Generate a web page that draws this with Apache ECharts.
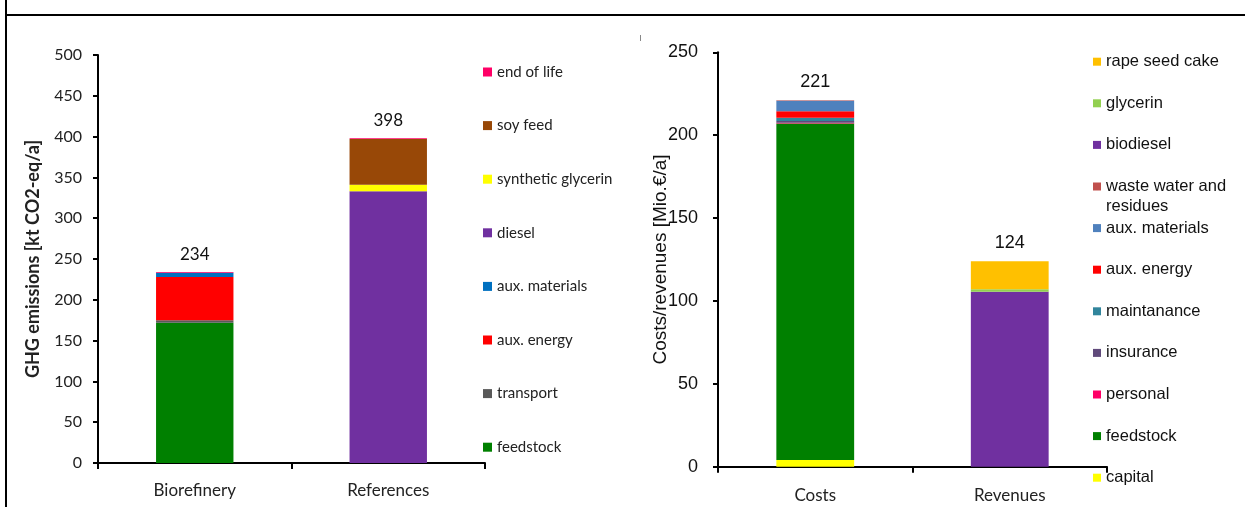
<!DOCTYPE html>
<html><head><meta charset="utf-8">
<script src="https://cdn.jsdelivr.net/npm/echarts@6/dist/echarts.min.js"></script>
<style>html,body{margin:0;padding:0;background:#fff}#c{width:1245px;height:507px}</style>
</head><body><div id="c"></div>
<script>
// ---------- Left chart: GHG emissions ----------
const ghgCategories = ['Biorefinery', 'References'];
const ghgTickLabels = [0, 50, 100, 150, 200, 250, 300, 350, 400, 450, 500];
const ghgFeedstock = [172, 0];
const ghgTransport = [3, 0];
const ghgAuxEnergy = [53, 0];
const ghgAuxMaterials = [5, 0];
const ghgDiesel = [0, 333];
const ghgSyntheticGlycerin = [0, 8];
const ghgSoyFeed = [0, 56];
const ghgEndOfLife = [1, 1];

// ---------- Right chart: costs / revenues ----------
const costCategories = ['Costs', 'Revenues'];
const costTickLabels = [0, 50, 100, 150, 200, 250];
const costCapital = [4, 0];
const costFeedstock = [203, 0];
const costPersonal = [0.5, 0];
const costInsurance = [1, 0];
const costMaintanance = [2, 0];
const costAuxEnergy = [4, 0];
const costAuxMaterials = [6.2, 0];
const costWasteWater = [0.3, 0];
const costBiodiesel = [0, 105.5];
const costGlycerin = [0, 1.5];
const costRapeSeedCake = [0, 17];

const ghgSeries = [
  {name: 'feedstock', data: ghgFeedstock, color: '#008000'},
  {name: 'transport', data: ghgTransport, color: '#595959'},
  {name: 'aux. energy', data: ghgAuxEnergy, color: '#ff0000'},
  {name: 'aux. materials', data: ghgAuxMaterials, color: '#0070c0'},
  {name: 'diesel', data: ghgDiesel, color: '#7030a0'},
  {name: 'synthetic glycerin', data: ghgSyntheticGlycerin, color: '#ffff00'},
  {name: 'soy feed', data: ghgSoyFeed, color: '#984807'},
  {name: 'end of life', data: ghgEndOfLife, color: '#ff0066'}
];
const costSeries = [
  {name: 'capital', data: costCapital, color: '#ffff00'},
  {name: 'feedstock', data: costFeedstock, color: '#008000'},
  {name: 'personal', data: costPersonal, color: '#ff0066'},
  {name: 'insurance', data: costInsurance, color: '#604a7b'},
  {name: 'maintanance', data: costMaintanance, color: '#31859c'},
  {name: 'aux. energy', data: costAuxEnergy, color: '#ff0000'},
  {name: 'aux. materials', data: costAuxMaterials, color: '#4f81bd'},
  {name: 'waste water and residues', data: costWasteWater, color: '#c0504d'},
  {name: 'biodiesel', data: costBiodiesel, color: '#7030a0'},
  {name: 'glycerin', data: costGlycerin, color: '#92d050'},
  {name: 'rape seed cake', data: costRapeSeedCake, color: '#ffc000'}
];

function totals(list, n) {
  const t = [];
  for (let i = 0; i < n; i++) t.push(Math.round(list.reduce((s, x) => s + x.data[i], 0)));
  return t;
}
const ghgTotals = totals(ghgSeries, ghgCategories.length);
const costTotals = totals(costSeries, costCategories.length);

const LEFT_FONT = 'Lato';
const RIGHT_FONT = 'Liberation Sans';
const black = '#000';

function barSeries(list, axisIndex, stack) {
  return list.map(s => ({
    type: 'bar', name: s.name, stack: stack, xAxisIndex: axisIndex, yAxisIndex: axisIndex,
    data: s.data, barWidth: '40%', itemStyle: {color: s.color}, silent: true
  }));
}
function totalSeries(tot, axisIndex, stack, font, size, dist) {
  return {
    type: 'bar', name: stack + ' total', stack: stack, xAxisIndex: axisIndex, yAxisIndex: axisIndex,
    data: tot.map(() => 0), barWidth: '40%', itemStyle: {color: 'rgba(0,0,0,0)'}, silent: true,
    label: {show: true, position: 'top', distance: dist, formatter: p => String(tot[p.dataIndex]),
      fontFamily: font, fontSize: size, color: '#111'}
  };
}

const legends = [];
ghgSeries.slice().reverse().forEach((s, i) => {
  legends.push({
    left: 483, top: 72 + i * 53.6 - 8, padding: 0, orient: 'vertical', selectedMode: false,
    itemWidth: 9, itemHeight: 9, icon: 'rect',
    textStyle: {fontFamily: LEFT_FONT, fontSize: 15, lineHeight: 16, color: '#222'},
    data: [{name: s.name, itemStyle: {color: s.color}}]
  });
});
costSeries.slice().reverse().forEach((s, i) => {
  const multi = s.name === 'waste water and residues';
  legends.push({
    left: 1093, top: 61.7 + i * 41.6 - (multi ? 30 : 9), padding: 0, orient: 'vertical', selectedMode: false,
    itemWidth: 8, itemHeight: 8, icon: 'rect',
    // the two-line entry gets an empty first line so its marker sits beside the first text line
    formatter: n => n === 'waste water and residues' ? '\nwaste water and\nresidues' : n,
    textStyle: {fontFamily: RIGHT_FONT, fontSize: 16.5, lineHeight: multi ? 20 : 18, color: '#111'},
    data: [{name: s.name, itemStyle: {color: s.color}}]
  });
});

const axisLine = {show: true, lineStyle: {color: black, width: 2}};
const axisTick = {show: true, length: 6, lineStyle: {color: black, width: 2}};

const option = {
  animation: false,
  backgroundColor: '#fff',
  legend: legends,
  grid: [
    {left: 98, top: 55, width: 387, height: 408, containLabel: false},
    {left: 718, top: 52.3, width: 389, height: 414.4, containLabel: false}
  ],
  xAxis: [
    {type: 'category', gridIndex: 0, data: ghgCategories, axisLine, axisTick,
      axisLabel: {fontFamily: LEFT_FONT, fontSize: 17, color: '#222', margin: 19}},
    {type: 'category', gridIndex: 1, data: costCategories, axisLine, axisTick,
      axisLabel: {fontFamily: LEFT_FONT, fontSize: 17, color: '#222', margin: 20}}
  ],
  yAxis: [
    {type: 'value', gridIndex: 0, min: ghgTickLabels[0], max: ghgTickLabels[ghgTickLabels.length - 1],
      interval: ghgTickLabels[1] - ghgTickLabels[0], axisLine, axisTick: {...axisTick, length: 5},
      splitLine: {show: false},
      axisLabel: {fontFamily: LEFT_FONT, fontSize: 16, color: '#222', margin: 16},
      name: 'GHG emissions [kt CO2-eq/a]', nameLocation: 'middle', nameGap: 56, nameMoveOverlap: false,
      nameTextStyle: {fontFamily: LEFT_FONT, fontSize: 18, fontWeight: 'bold', color: '#222'}},
    {type: 'value', gridIndex: 1, min: costTickLabels[0], max: costTickLabels[costTickLabels.length - 1],
      interval: costTickLabels[1] - costTickLabels[0], axisLine, axisTick: {...axisTick, length: 5},
      splitLine: {show: false},
      axisLabel: {fontFamily: RIGHT_FONT, fontSize: 18, color: '#111', margin: 20},
      name: 'Costs/revenues [Mio.€/a]', nameLocation: 'middle', nameGap: 48, nameMoveOverlap: false,
      nameTextStyle: {fontFamily: RIGHT_FONT, fontSize: 19, color: '#111'}}
  ],
  series: [
    ...barSeries(ghgSeries, 0, 'ghg'),
    totalSeries(ghgTotals, 0, 'ghg', LEFT_FONT, 17, 9),
    ...barSeries(costSeries, 1, 'cost'),
    totalSeries(costTotals, 1, 'cost', RIGHT_FONT, 18, 9)
  ],
  graphic: [
    {type: 'line', shape: {x1: 6, y1: 15, x2: 1245, y2: 15}, style: {stroke: '#000', lineWidth: 2}},
    {type: 'line', shape: {x1: 6, y1: 0, x2: 6, y2: 507}, style: {stroke: '#000', lineWidth: 2}},
    {type: 'line', shape: {x1: 640.5, y1: 35, x2: 640.5, y2: 41}, style: {stroke: '#888', lineWidth: 1}}
  ]
};

const chart = echarts.init(document.getElementById('c'), null, {renderer: 'canvas'});
chart.setOption(option);
</script>
</body></html>
